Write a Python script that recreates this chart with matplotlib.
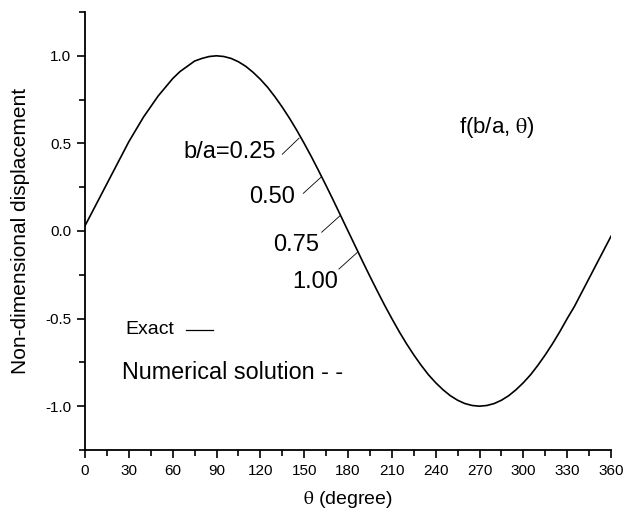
import matplotlib
matplotlib.use("Agg")
import matplotlib.pyplot as plt
from matplotlib.ticker import MultipleLocator, FormatStrFormatter

# curve, every 5 degrees
theta = list(range(0, 365, 5))
disp = [0.03, 0.11, 0.19, 0.27, 0.35, 0.43, 0.51, 0.58, 0.65, 0.71,
        0.77, 0.82, 0.87, 0.91, 0.94, 0.97, 0.985, 0.996, 1.00, 0.996,
        0.985, 0.966, 0.94, 0.906, 0.866, 0.82, 0.766, 0.707, 0.643, 0.574,
        0.50, 0.423, 0.342, 0.259, 0.174, 0.087, 0.00, -0.087, -0.174,
        -0.259, -0.342, -0.423, -0.50, -0.574, -0.643, -0.707, -0.766,
        -0.82, -0.866, -0.906, -0.94, -0.966, -0.985, -0.996, -1.00,
        -0.996, -0.985, -0.966, -0.94, -0.906, -0.866, -0.82, -0.766,
        -0.707, -0.643, -0.574, -0.50, -0.43, -0.35, -0.27, -0.19, -0.11,
        -0.03]

ratio_labels = ['b/a=0.25', '0.50', '0.75', '1.00']

plt.rcParams['font.family'] = ['Liberation Sans', 'DejaVu Sans']
plt.rcParams['mathtext.fontset'] = 'stix'
plt.rcParams['axes.unicode_minus'] = False

fig = plt.figure(figsize=(6.27, 5.11), dpi=100)
ax = fig.add_axes([0.1356, 0.1194, 0.8389, 0.8571])

ax.plot(theta, disp, color='black', lw=1.2)

# leader lines from the b/a labels to the curve
line_start = [(135, 0.438), (149.4, 0.215), (162, -0.007), (173.8, -0.217)]
line_end = [(146.5, 0.53), (161.5, 0.307), (174.5, 0.087), (186.4, -0.122)]
text_pos = [(130.5, 0.45), (143.5, 0.195), (160, -0.08), (173, -0.29)]
for lab, s, e, t in zip(ratio_labels, line_start, line_end, text_pos):
    ax.plot([s[0], e[0]], [s[1], e[1]], color='black', lw=0.6)
    ax.text(t[0], t[1], lab, ha='right', va='center', fontsize=17)

ax.text(256, 0.59, r'f(b/a, $\mathrm{\theta}$)', ha='left', va='center',
        fontsize=16)

# hand-made key
ax.text(27.4, -0.565, 'Exact', ha='left', va='center', fontsize=14)
ax.plot([69, 87.5], [-0.565, -0.565], color='black', lw=0.9)
ax.text(25, -0.81, 'Numerical solution - -', ha='left', va='center',
        fontsize=16.8)

ax.set_xlim(0, 360)
ax.set_ylim(-1.25, 1.25)
ax.xaxis.set_major_locator(MultipleLocator(30))
ax.xaxis.set_minor_locator(MultipleLocator(15))
ax.yaxis.set_major_locator(MultipleLocator(0.5))
ax.yaxis.set_minor_locator(MultipleLocator(0.25))
ax.yaxis.set_major_formatter(FormatStrFormatter('%.1f'))

for side in ['top', 'right']:
    ax.spines[side].set_visible(False)
for side in ['left', 'bottom']:
    ax.spines[side].set_linewidth(1.3)

ax.tick_params(which='major', direction='out', length=6, width=1.2,
               labelsize=11, pad=4)
ax.tick_params(which='minor', direction='out', length=4, width=1.2)

ax.set_xlabel(r'$\mathrm{\theta}$ (degree)', fontsize=14)
ax.set_ylabel('Non-dimensional displacement', fontsize=15)
ax.yaxis.set_label_coords(-0.105, 0.5)
ax.xaxis.set_label_coords(0.5, -0.09)

fig.savefig('out.png', dpi=100)
